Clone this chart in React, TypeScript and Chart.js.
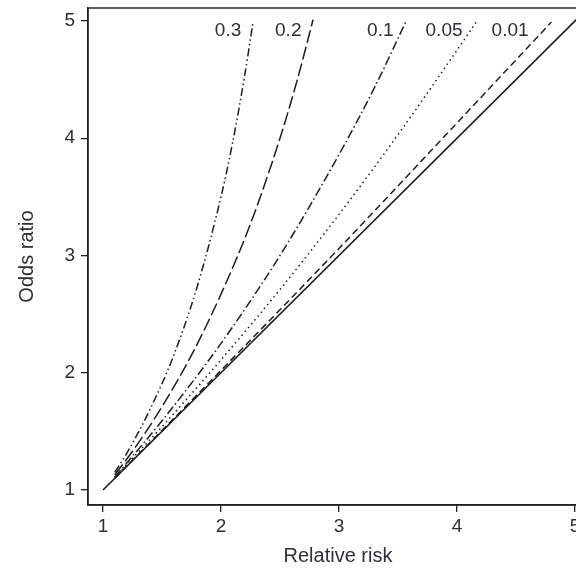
import React, { useEffect, useRef } from "react";
import { Chart, registerables } from "chart.js";

Chart.register(...registerables);

// Relative risk (x) and odds ratio (y) readings for each baseline risk
const rr30 = [1.1, 1.2, 1.4, 1.6, 1.8, 2.0, 2.1, 2.2, 2.27];
const or30 = [1.15, 1.31, 1.69, 2.15, 2.74, 3.5, 3.97, 4.53, 4.98];

const rr20 = [1.1, 1.25, 1.5, 1.75, 2.0, 2.25, 2.5, 2.65, 2.78];
const or20 = [1.13, 1.33, 1.71, 2.15, 2.67, 3.27, 4.0, 4.51, 5.01];

const rr10 = [1.1, 1.5, 2.0, 2.5, 3.0, 3.3, 3.57];
const or10 = [1.11, 1.59, 2.25, 3.0, 3.86, 4.43, 5.0];

const rr05 = [1.1, 1.5, 2.0, 2.5, 3.0, 3.5, 4.0, 4.17];
const or05 = [1.11, 1.54, 2.11, 2.71, 3.35, 4.03, 4.75, 5.0];

const rr01 = [1.1, 2.0, 3.0, 4.0, 4.8];
const or01 = [1.1, 2.02, 3.06, 4.13, 4.99];

const rrRef = [1, 5.12];
const orRef = [1, 5.12];

const seriesLabels = ["0.3", "0.2", "0.1", "0.05", "0.01"];
const labelRR = [2.06, 2.57, 3.35, 3.89, 4.45];
const labelOR = [4.92, 4.92, 4.92, 4.92, 4.92];

const xTicks = [1, 2, 3, 4, 5];
const yTicks = [1, 2, 3, 4, 5];

const xTitle = "Relative risk";
const yTitle = "Odds ratio";

const FONT = '"Liberation Sans", Arial, Helvetica, sans-serif';
const INK = "#1e1e1e";
const TEXT = "#2e2e3a";

const pts = (xs: number[], ys: number[]) => xs.map((x, i) => ({ x, y: ys[i] }));

export default function App() {
  const ref = useRef<HTMLCanvasElement | null>(null);

  useEffect(() => {
    const canvas = ref.current;
    if (!canvas) return;

    const overlay = {
      id: "overlay",
      afterDraw(chart: any) {
        const { ctx, chartArea, scales } = chart;
        ctx.save();
        ctx.strokeStyle = INK;
        ctx.lineWidth = 1.4;
        ctx.strokeRect(chartArea.left, chartArea.top, chartArea.right - chartArea.left, chartArea.bottom - chartArea.top);
        ctx.fillStyle = TEXT;
        ctx.font = `19px ${FONT}`;
        ctx.textAlign = "center";
        ctx.textBaseline = "middle";
        seriesLabels.forEach((t, i) => {
          ctx.fillText(t, scales.x.getPixelForValue(labelRR[i]), scales.y.getPixelForValue(labelOR[i]));
        });
        ctx.font = `20px ${FONT}`;
        ctx.fillText(xTitle, (chartArea.left + chartArea.right) / 2, 556);
        ctx.translate(27, (chartArea.top + chartArea.bottom) / 2);
        ctx.rotate(-Math.PI / 2);
        ctx.fillText(yTitle, 0, 0);
        ctx.restore();
      },
    };

    const lineDs = (label: string, data: any[], dash: number[], width = 1.5) => ({
      label,
      data,
      showLine: true,
      borderColor: INK,
      borderWidth: width,
      borderDash: dash,
      pointRadius: 0,
      fill: false,
      cubicInterpolationMode: "monotone" as const,
    });

    const chart = new Chart(canvas, {
      type: "scatter",
      data: {
        datasets: [
          lineDs("0.3", pts(rr30, or30), [8, 3, 1.5, 3, 1.5, 3]),
          lineDs("0.2", pts(rr20, or20), [13, 4]),
          lineDs("0.1", pts(rr10, or10), [9, 3, 1.5, 3]),
          lineDs("0.05", pts(rr05, or05), [1.5, 3.5]),
          lineDs("0.01", pts(rr01, or01), [7, 4]),
          lineDs("ref", pts(rrRef, orRef), [], 1.6),
        ],
      },
      options: {
        responsive: false,
        animation: false,
        layout: { padding: { top: 8, right: 12, left: 0, bottom: 0 } },
        plugins: { legend: { display: false }, tooltip: { enabled: false }, title: { display: false } },
        scales: {
          x: {
            type: "linear",
            min: 0.873,
            max: 5.11,
            afterBuildTicks: (s: any) => {
              s.ticks = xTicks.map((v) => ({ value: v }));
            },
            afterFit: (s: any) => {
              s.height = 65;
              s.paddingLeft = 0;
              s.paddingRight = 0;
            },
            grid: { display: true, drawOnChartArea: false, drawTicks: true, tickLength: 7, color: INK, lineWidth: 1.3 },
            border: { display: true, color: INK, width: 1.4 },
            ticks: { color: TEXT, font: { family: FONT, size: 19 }, padding: 3, maxRotation: 0, autoSkip: false },
          },
          y: {
            type: "linear",
            min: 0.872,
            max: 5.11,
            afterBuildTicks: (s: any) => {
              s.ticks = yTicks.map((v) => ({ value: v }));
            },
            afterFit: (s: any) => {
              s.width = 88;
              s.paddingTop = 0;
              s.paddingBottom = 0;
            },
            grid: { display: true, drawOnChartArea: false, drawTicks: true, tickLength: 7, color: INK, lineWidth: 1.3 },
            border: { display: true, color: INK, width: 1.4 },
            ticks: { color: TEXT, font: { family: FONT, size: 19 }, padding: 6, autoSkip: false },
          },
        },
      },
      plugins: [overlay],
    });

    return () => chart.destroy();
  }, []);

  return (
    <div style={{ position: "fixed", left: 0, top: 0, width: 576, height: 570, overflow: "hidden", background: "#fff" }}>
      <canvas ref={ref} width={600} height={570} style={{ display: "block", width: 600, height: 570 }} />
    </div>
  );
}
